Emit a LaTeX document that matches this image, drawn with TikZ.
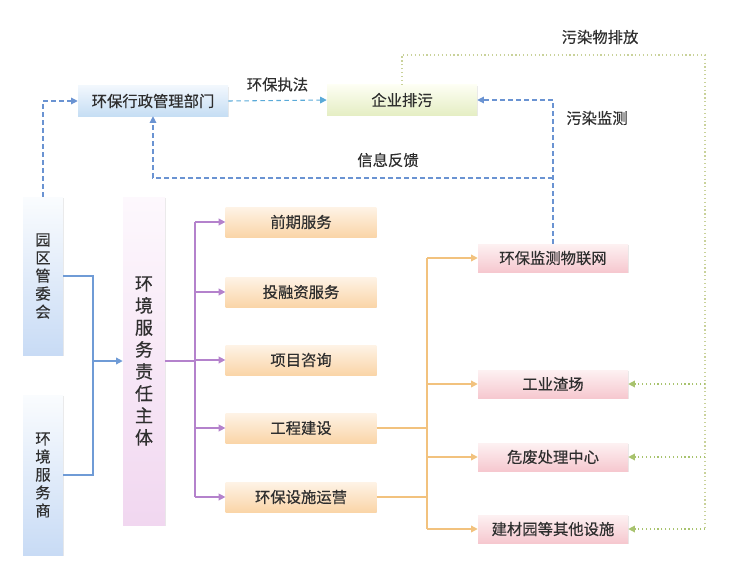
\documentclass[tikz,border=0pt]{standalone}
\usepackage{fontspec}
\setmainfont{Noto Sans CJK SC}[FakeBold=0.35]
\usetikzlibrary{arrows.meta,shadows,positioning}
\definecolor{inkgray}{HTML}{2E2E2E}
\definecolor{dashblue}{HTML}{6A93D2}
\definecolor{dashcyan}{HTML}{5AAAD8}
\definecolor{lineblue}{HTML}{6F9BD6}
\definecolor{linepurple}{HTML}{B482CC}
\definecolor{lineorange}{HTML}{F2C27E}
\definecolor{dotgreen}{HTML}{C9D29A}
\definecolor{tipgreen}{HTML}{A8C36E}
\definecolor{govtop}{HTML}{F1F7FD}
\definecolor{govbot}{HTML}{C6DEF4}
\definecolor{enttop}{HTML}{FDFEF3}
\definecolor{entbot}{HTML}{E5EEC4}
\definecolor{svctop}{HTML}{FEF3E6}
\definecolor{svcbot}{HTML}{FAD5A8}
\definecolor{factop}{HTML}{FDF1F2}
\definecolor{facbot}{HTML}{F6C8CF}
\definecolor{sidetop}{HTML}{FAFCFE}
\definecolor{sidebot}{HTML}{C8DBF5}
\definecolor{maintop}{HTML}{FDF8FD}
\definecolor{mainbot}{HTML}{F1D7F0}

\begin{document}
\begin{tikzpicture}[x=0.75pt,y=-0.75pt,
    card/.style={inner sep=0pt, align=center, text=inkgray,
      font=\fontsize{11.5}{13}\selectfont,
      drop shadow={shadow xshift=0.5pt,shadow yshift=-1pt,opacity=0.18}},
    govbox/.style={card, minimum width=112.5pt, minimum height=22.5pt,
      top color=govtop, bottom color=govbot},
    entbox/.style={card, minimum width=112.5pt, minimum height=22.5pt,
      top color=enttop, bottom color=entbot},
    svcbox/.style={card, minimum width=113pt, minimum height=22.5pt,
      top color=svctop, bottom color=svcbot},
    facbox/.style={card, minimum width=112.5pt, minimum height=21pt,
      top color=factop, bottom color=facbot},
    sidebox/.style={card, minimum width=30pt,
      font=\fontsize{11.5}{13.5}\selectfont,
      top color=sidetop, bottom color=sidebot},
    mainbox/.style={card, minimum width=31.5pt, minimum height=246pt,
      font=\fontsize{13.5}{16.5}\selectfont,
      top color=maintop, bottom color=mainbot},
    lbl/.style={text=inkgray, font=\fontsize{11.5}{13}\selectfont},
    bluedash/.style={dashblue, line width=0.8pt, dash pattern=on 3.5pt off 2.5pt},
    bluesolid/.style={lineblue, line width=1pt},
    purpleline/.style={linepurple, line width=1pt},
    orangeline/.style={lineorange, line width=1pt},
    greendot/.style={dotgreen, line width=0.9pt, dotted},
    tip/.style={-{Triangle[width=5pt,length=5pt]}}
  ]
  \useasboundingbox (0,0) rectangle (753,567);

  % top row
  \node[govbox] (gov) at (153,101) {环保行政管理部门};
  \node[entbox] (ent) at (402,100) {企业排污};

  % left side
  \node[sidebox, minimum height=118.5pt] (park) at (43,276) {园\\区\\管\\委\\会};
  \node[sidebox, minimum height=120pt] (prov) at (43,475) {环\\境\\服\\务\\商};
  \node[mainbox] (main) at (144,361) {环\\境\\服\\务\\责\\任\\主\\体};

  % services
  \node[svcbox] (s1) at (301,222) {前期服务};
  \node[svcbox] (s2) at (301,292) {投融资服务};
  \node[svcbox] (s3) at (301,360) {项目咨询};
  \node[svcbox] (s4) at (301,428) {工程建设};
  \node[svcbox] (s5) at (301,497) {环保设施运营};

  % facilities
  \node[facbox] (iot) at (553,258) {环保监测物联网};
  \node[facbox] (slag) at (553,384) {工业渣场};
  \node[facbox] (haz) at (553,457) {危废处理中心};
  \node[facbox] (others) at (553,529) {建材园等其他设施};

  % junctions
  \coordinate (jblue) at (93,361);
  \coordinate (jpurple) at (195,361);
  \coordinate (jorange) at (427,428);
  \coordinate (fb) at (553,178);
  \coordinate (topR) at (705,55);

  % blue dashed loop
  \draw[bluedash, tip] (park.north) |- (gov.west);
  \draw[bluedash, dashcyan, tip] (gov.east) -- node[lbl, above=3pt] {环保执法} (ent.west);
  \draw[bluedash, tip] (iot.north) |- (ent.east);
  \draw[bluedash, tip] (fb) -| (gov.south);
  \node[lbl] (fblabel) at (388,160) {信息反馈};
  \node[lbl] (monlabel) at (597,118) {污染监测};

  % pollutant discharge
  \draw[greendot] (ent.north) |- (topR) -- (topR |- others.east);
  \foreach \n in {slag,haz,others}
    \draw[greendot, tip, tipgreen] (topR |- \n.east) -- (\n.east);
  \node[lbl] (emlabel) at (600,37) {污染物排放};

  % left to main
  \draw[bluesolid] (park.east) -| (jblue) |- (prov.east);
  \draw[bluesolid, tip] (jblue) -- (main.west);

  % main to services
  \draw[purpleline] (main.east) -- (jpurple);
  \draw[purpleline] (jpurple |- s1.west) -- (jpurple |- s5.west);
  \foreach \n in {s1,s2,s3,s4,s5}
    \draw[purpleline, tip] (jpurple |- \n.west) -- (\n.west);

  % services to facilities
  \draw[orangeline] (s4.east) -- (jorange);
  \draw[orangeline] (s5.east) -- (jorange |- s5.east);
  \draw[orangeline] (jorange |- iot.west) -- (jorange |- others.west);
  \foreach \n in {iot,slag,haz,others}
    \draw[orangeline, tip] (jorange |- \n.west) -- (\n.west);
\end{tikzpicture}
\end{document}
